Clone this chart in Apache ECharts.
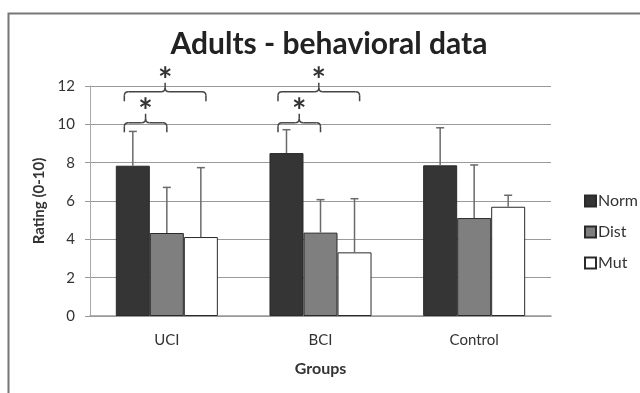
<!DOCTYPE html>
<html>
<head>
<meta charset="utf-8">
<script src="https://cdn.jsdelivr.net/npm/echarts@6/dist/echarts.min.js"></script>
<style>
html,body{margin:0;padding:0;background:#fff;}
#chart{width:640px;height:393px;}
</style>
</head>
<body>
<div id="chart"></div>
<script>
// ---- data ----
const categories = ['UCI', 'BCI', 'Control'];
const seriesNames = ['Norm', 'Dist', 'Mut'];
const normValues = [7.84, 8.5, 7.86];
const distValues = [4.33, 4.35, 5.11];
const mutValues = [4.12, 3.32, 5.70];
const normUpper = [9.63, 9.72, 9.82];
const distUpper = [6.71, 6.07, 7.88];
const mutUpper = [7.74, 6.12, 6.30];
const yTicks = [0, 2, 4, 6, 8, 10, 12];
// significance brackets: group index, from bar index, to bar index, bracket level (rating units)
const sigGroup = [0, 0, 1, 1];
const sigFrom = [0, 0, 0, 0];
const sigTo = [1, 2, 1, 2];
const sigLevel = [10.08, 11.7, 10.08, 11.7];
const sigLabel = ['*', '*', '*', '*'];

const FONT = 'Lato, "Open Sans", sans-serif';
const GAP = 0.336;
const colors = ['#353535', '#7f7f7f', '#ffffff'];
const values = [normValues, distValues, mutValues];
const uppers = [normUpper, distUpper, mutUpper];

const chart = echarts.init(document.getElementById('chart'), null, {renderer: 'canvas'});

function barOffset(api, idx) {
  const band = api.size([1, 0])[0];
  const w = band * (1 - GAP) / 3;
  return {w: w, off: (idx - 1) * w};
}

const barSeries = seriesNames.map((name, s) => ({
  name: name,
  type: 'bar',
  data: values[s],
  barGap: '0%',
  barCategoryGap: (GAP * 100) + '%',
  itemStyle: {color: colors[s], borderColor: '#2a2a2a', borderWidth: 1},
  z: 2
}));

const errSeries = seriesNames.map((name, s) => ({
  type: 'custom',
  name: name + ' err',
  data: categories.map((c, i) => [i, values[s][i], uppers[s][i]]),
  z: 3,
  silent: true,
  renderItem: function (params, api) {
    const i = api.value(0);
    const b = barOffset(api, s);
    const p0 = api.coord([i, api.value(1)]);
    const p1 = api.coord([i, api.value(2)]);
    const x = p0[0] + b.off;
    const st = {stroke: '#6a6a6a', lineWidth: 1.5};
    return {
      type: 'group',
      children: [
        {type: 'line', shape: {x1: x, y1: p0[1], x2: x, y2: p1[1]}, style: st},
        {type: 'line', shape: {x1: x - 4, y1: p1[1], x2: x + 4, y2: p1[1]}, style: st}
      ]
    };
  }
}));

const sigSeries = {
  type: 'custom',
  name: 'sig',
  silent: true,
  z: 4,
  data: sigGroup.map((g, k) => [g, sigFrom[k], sigTo[k], sigLevel[k]]),
  renderItem: function (params, api) {
    const g = api.value(0);
    const a = api.value(1), bIdx = api.value(2);
    const c = api.coord([g, api.value(3)]);
    const ba = barOffset(api, a), bb = barOffset(api, bIdx);
    const w = ba.w;
    const xL = c[0] + ba.off - 0.25 * w;
    const xR = c[0] + bb.off + (bIdx === 2 ? 0.15 * w : 0);
    const xm = (xL + xR) / 2;
    const yH = c[1];
    const yEnd = yH + 9.5;
    const yPeak = yH - 9;
    const r = 4;
    const st = {stroke: '#444', lineWidth: 1.5, fill: null};
    return {
      type: 'group',
      children: [
        {type: 'line', shape: {x1: xL, y1: yEnd, x2: xL, y2: yH + r}, style: st},
        {type: 'bezierCurve', shape: {x1: xL, y1: yH + r, cpx1: xL, cpy1: yH, x2: xL + r, y2: yH}, style: st},
        {type: 'line', shape: {x1: xL + r, y1: yH, x2: xm - r, y2: yH}, style: st},
        {type: 'bezierCurve', shape: {x1: xm - r, y1: yH, cpx1: xm, cpy1: yH, x2: xm, y2: yH - r}, style: st},
        {type: 'line', shape: {x1: xm, y1: yH - r, x2: xm, y2: yPeak}, style: st},
        {type: 'bezierCurve', shape: {x1: xm + r, y1: yH, cpx1: xm, cpy1: yH, x2: xm, y2: yH - r}, style: st},
        {type: 'line', shape: {x1: xm + r, y1: yH, x2: xR - r, y2: yH}, style: st},
        {type: 'bezierCurve', shape: {x1: xR - r, y1: yH, cpx1: xR, cpy1: yH, x2: xR, y2: yH + r}, style: st},
        {type: 'line', shape: {x1: xR, y1: yH + r, x2: xR, y2: yEnd}, style: st},
        {type: 'text', style: {text: sigLabel[params.dataIndex], x: xm, y: yPeak + 15, align: 'center', verticalAlign: 'bottom', font: 'bold 34px ' + FONT, fill: '#333'}}
      ]
    };
  }
};

chart.setOption({
  animation: false,
  backgroundColor: '#fff',
  title: {
    text: 'Adults - behavioral data',
    left: 324, textAlign: 'center', top: 24,
    textStyle: {fontFamily: FONT, fontWeight: 'bold', fontSize: 30, color: '#222'}
  },
  graphic: [{
    type: 'polyline', silent: true,
    shape: {points: [[8.5, 400], [8.5, 13.5], [650, 13.5]]},
    style: {stroke: '#777', lineWidth: 2, fill: null}
  }],
  legend: {
    orient: 'vertical', left: 579, top: 188, itemGap: 15,
    itemWidth: 11, itemHeight: 11,
    data: seriesNames.map(n => ({name: n, icon: 'rect'})),
    textStyle: {fontFamily: FONT, fontSize: 16, color: '#333', padding: [0, 0, 0, -3]}
  },
  grid: {left: 90, right: 89, top: 86, bottom: 77, containLabel: false},
  xAxis: {
    type: 'category', data: categories,
    name: 'Groups', nameLocation: 'middle', nameGap: 45,
    nameTextStyle: {fontFamily: FONT, fontWeight: 'bold', fontSize: 16, color: '#333'},
    axisLine: {lineStyle: {color: '#999', width: 1.5}},
    axisTick: {show: false},
    axisLabel: {fontFamily: FONT, fontSize: 15, color: '#333', margin: 17}
  },
  yAxis: {
    type: 'value', min: 0, max: 12, interval: 2,
    name: 'Rating (0-10)', nameLocation: 'middle', nameGap: 40,
    nameTextStyle: {fontFamily: FONT, fontWeight: 'bold', fontSize: 15, color: '#333'},
    axisLine: {show: true, lineStyle: {color: '#aaa', width: 1}},
    axisTick: {show: true, length: 5, lineStyle: {color: '#999'}},
    splitLine: {lineStyle: {color: '#9a9a9a', width: 1.2}},
    axisLabel: {fontFamily: FONT, fontSize: 15, color: '#333', margin: 15,
      formatter: v => yTicks.indexOf(v) >= 0 ? String(v) : ''}
  },
  series: barSeries.concat(errSeries, [sigSeries])
});
</script>
</body>
</html>
